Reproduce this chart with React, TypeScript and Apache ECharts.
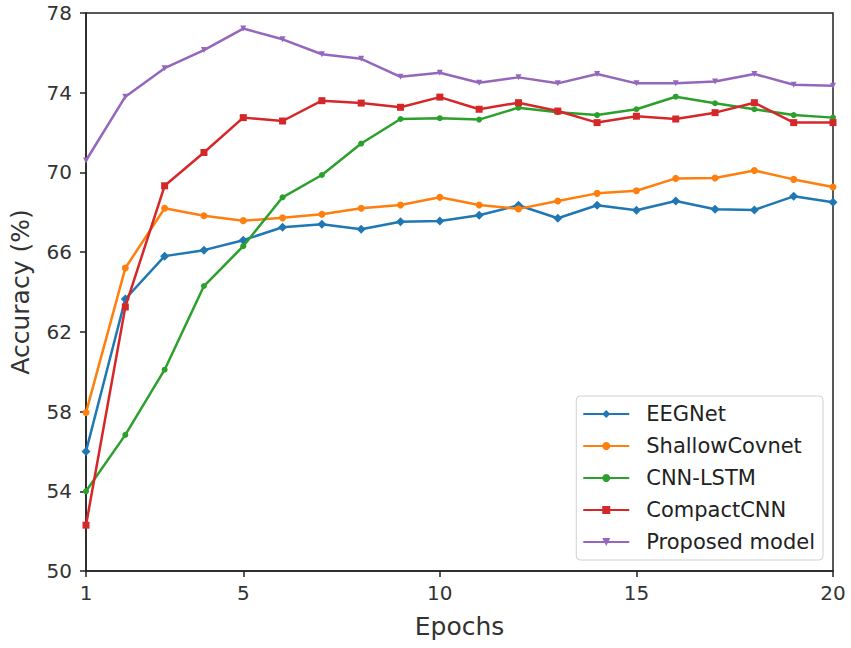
import React, { useEffect, useRef } from "react";
import * as echarts from "echarts";

const epochs = [1, 2, 3, 4, 5, 6, 7, 8, 9, 10, 11, 12, 13, 14, 15, 16, 17, 18, 19, 20];
const eegnet = [56.0, 63.65, 65.8, 66.1, 66.6, 67.25, 67.4, 67.15, 67.53, 67.56, 67.85, 68.35, 67.7, 68.35, 68.1, 68.57, 68.15, 68.12, 68.8, 68.5];
const shallow = [57.95, 65.2, 68.2, 67.83, 67.58, 67.72, 67.9, 68.2, 68.37, 68.75, 68.37, 68.17, 68.57, 68.95, 69.08, 69.7, 69.72, 70.1, 69.65, 69.27];
const cnnLstm = [54.0, 56.83, 60.1, 64.3, 66.3, 68.75, 69.87, 71.45, 72.68, 72.72, 72.65, 73.25, 73.02, 72.88, 73.17, 73.8, 73.47, 73.17, 72.88, 72.75];
const compact = [52.3, 63.25, 69.33, 71.0, 72.75, 72.58, 73.6, 73.48, 73.27, 73.78, 73.17, 73.5, 73.08, 72.5, 72.82, 72.68, 73.0, 73.5, 72.5, 72.5];
const proposed = [70.6, 73.8, 75.23, 76.14, 77.22, 76.68, 75.93, 75.7, 74.8, 75.0, 74.5, 74.77, 74.47, 74.94, 74.47, 74.47, 74.56, 74.94, 74.4, 74.35];
const yTicks = [50, 54, 58, 62, 66, 70, 74, 78];
const xTicks = [1, 5, 10, 15, 20];

const names = ["EEGNet", "ShallowCovnet", "CNN-LSTM", "CompactCNN", "Proposed model"];
const colors = ["#1f77b4", "#ff7f0e", "#2ca02c", "#d62728", "#9467bd"];
const values = [eegnet, shallow, cnnLstm, compact, proposed];
const symbols = ["diamond", "circle", "circle", "rect", "triangle"];
const sizes = [9, 7, 6, 7, 6];
const rotates = [0, 0, 0, 0, 180];

export default function App() {
  const ref = useRef<HTMLDivElement>(null);
  useEffect(() => {
    if (!ref.current) return;
    document.body.style.margin = "0";
    const chart = echarts.init(ref.current, null, { renderer: "svg" });
    const font = "DejaVu Sans";
    chart.setOption({
      animation: false,
      backgroundColor: "#ffffff",
      textStyle: { fontFamily: font },
      grid: {
        left: 86,
        right: 18,
        top: 13,
        bottom: 77,
        show: true,
        borderColor: "#222",
        borderWidth: 1.5,
        backgroundColor: "transparent",
      },
      xAxis: {
        type: "value",
        min: 1,
        max: 20,
        name: "Epochs",
        nameLocation: "middle",
        nameGap: 43,
        nameTextStyle: { fontSize: 25, color: "#333", fontFamily: font },
        axisLine: { show: true, lineStyle: { color: "#222", width: 1.5 } },
        axisTick: { show: true, customValues: xTicks, length: 6, inside: false, lineStyle: { color: "#222", width: 1.5 } },
        axisLabel: { customValues: xTicks, fontSize: 20, color: "#333", margin: 12, fontFamily: font },
        splitLine: { show: false },
      },
      yAxis: {
        type: "value",
        min: 50,
        max: 78,
        name: "Accuracy (%)",
        nameLocation: "middle",
        nameGap: 53,
        nameTextStyle: { fontSize: 25, color: "#333", fontFamily: font },
        axisLine: { show: true, lineStyle: { color: "#222", width: 1.5 } },
        axisTick: { show: true, customValues: yTicks, length: 6, inside: false, lineStyle: { color: "#222", width: 1.5 } },
        axisLabel: { customValues: yTicks, fontSize: 20, color: "#333", margin: 14, fontFamily: font },
        splitLine: { show: false },
      },
      legend: {
        orient: "vertical",
        right: 28,
        top: 396,
        data: names,
        itemWidth: 46,
        itemHeight: 10,
        itemGap: 10,
        padding: [7, 8, 7, 6],
        backgroundColor: "#ffffff",
        borderColor: "#d0d0d0",
        borderWidth: 1,
        borderRadius: 4,
        textStyle: { fontSize: 21, lineHeight: 22, color: "#222", fontFamily: font, padding: [0, 0, 0, 12] },
      },
      series: names.map((n, i) => ({
        name: n,
        type: "line",
        data: epochs.map((e, j) => [e, values[i][j]]),
        symbol: symbols[i],
        symbolSize: sizes[i],
        symbolRotate: rotates[i],
        showAllSymbol: true,
        clip: false,
        lineStyle: { color: colors[i], width: 2.5 },
        itemStyle: { color: colors[i] },
        z: 2 + i,
      })),
    });
    return () => chart.dispose();
  }, []);
  return <div ref={ref} style={{ width: 851, height: 648 }} />;
}
